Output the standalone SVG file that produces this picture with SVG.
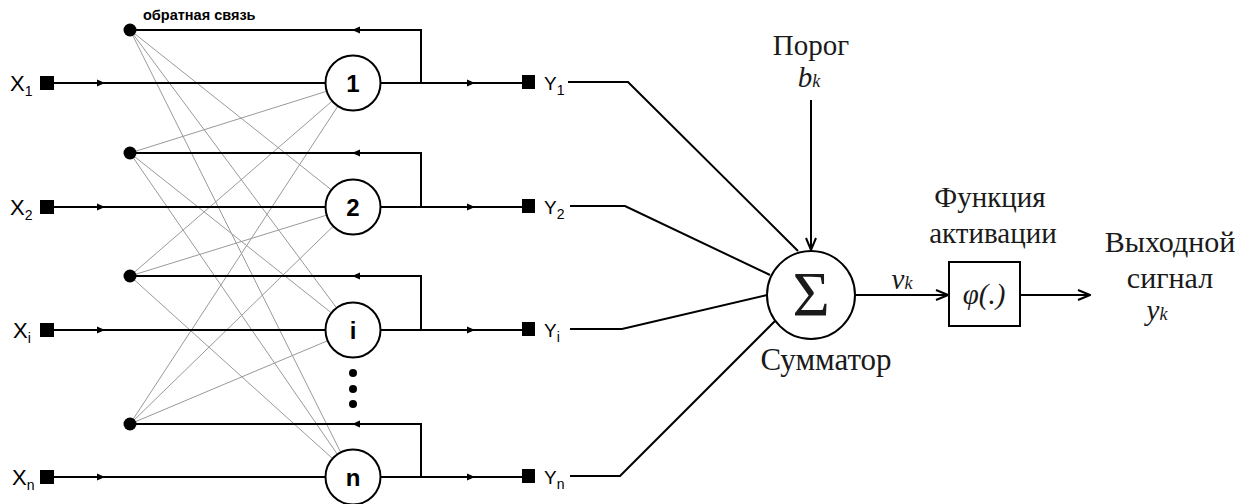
<svg xmlns="http://www.w3.org/2000/svg" width="1248" height="504" viewBox="0 0 1248 504">
<defs>
<style>
.ln{stroke:#000;stroke-width:2;fill:none}
.th{stroke:#999;stroke-width:1;fill:none}
.nd{fill:#fff;stroke:#000;stroke-width:2}
.dot{fill:#000}
.lbl{font-family:'Liberation Sans',Arial,sans-serif;fill:#000}
.nl{font-family:'Liberation Sans',Arial,sans-serif;font-size:24px;font-weight:bold;text-anchor:middle;fill:#000}
.sf{font-family:'Liberation Serif','Times New Roman','DejaVu Serif',serif;fill:#1a1a1a;text-anchor:middle}
.it{font-style:italic}
</style>
<path id="tr" d="M-7,-3.5 L1,0 L-7,3.5 Z"/>
<path id="tl" d="M7,-3.5 L-1,0 L7,3.5 Z"/>
<marker id="v" viewBox="0 0 14 12" refX="13" refY="6" markerWidth="14" markerHeight="12" markerUnits="userSpaceOnUse" orient="auto"><path d="M1,1 L13,6 L1,11" fill="none" stroke="#000" stroke-width="2"/></marker>
</defs>
<rect width="1248" height="504" fill="#fff"/>

<g id="connectors">
  <g id="cross-links">
    <path class="th" d="M130,30 L353,207 M130,30 L353,330 M130,30 L353,477"/>
    <path class="th" d="M130,153 L353,83 M130,153 L353,330 M130,153 L353,477"/>
    <path class="th" d="M130,276 L353,83 M130,276 L353,207 M130,276 L353,477"/>
    <path class="th" d="M130,424 L353,83 M130,424 L353,207 M130,424 L353,330"/>
  </g>
  <g id="inputs">
    <path class="ln" d="M54,83 H326 M54,207 H326 M54,330 H326 M54,477 H326"/>
    <use href="#tr" x="104" y="83"/><use href="#tr" x="104" y="207"/><use href="#tr" x="104" y="330"/><use href="#tr" x="104" y="477"/>
  </g>
  <g id="outputs">
    <path class="ln" d="M380,83 H522 M380,207 H522 M380,330 H522 M380,477 H522"/>
    <use href="#tr" x="474" y="83"/><use href="#tr" x="474" y="207"/><use href="#tr" x="474" y="330"/><use href="#tr" x="474" y="477"/>
  </g>
  <g id="feedback">
    <path class="ln" d="M421,83 V30 H130 M421,207 V153 H130 M421,330 V276 H130 M421,477 V424 H130"/>
    <use href="#tl" x="353" y="30"/><use href="#tl" x="353" y="153"/><use href="#tl" x="353" y="276"/><use href="#tl" x="353" y="424"/>
  </g>
  <g id="to-sum">
    <path class="ln" d="M568,82 H628 L798,251"/>
    <path class="ln" d="M570,206 H625 L770,275"/>
    <path class="ln" d="M570,329 H622 L767,295"/>
    <path class="ln" d="M570,476 H620 L775,321"/>
  </g>
  <path id="bias-arrow" class="ln" d="M811,100 V250" marker-end="url(#v)"/>
  <path id="sum-to-phi" class="ln" d="M855,295 H948" marker-end="url(#v)"/>
  <path id="phi-out" class="ln" d="M1020,295 H1090" marker-end="url(#v)"/>
</g>

<g id="x1"><rect x="40" y="76" width="14" height="14" class="dot"/><text class="lbl" x="10" y="91" style="font-size:22px">X<tspan style="font-size:14px" dy="5">1</tspan></text></g>
<g id="x2"><rect x="40" y="200" width="14" height="14" class="dot"/><text class="lbl" x="10" y="215" style="font-size:22px">X<tspan style="font-size:14px" dy="5">2</tspan></text></g>
<g id="xi"><rect x="40" y="323" width="14" height="14" class="dot"/><text class="lbl" x="13" y="338" style="font-size:22px">X<tspan style="font-size:14px" dy="5">i</tspan></text></g>
<g id="xn"><rect x="40" y="470" width="14" height="14" class="dot"/><text class="lbl" x="12" y="485" style="font-size:22px">X<tspan style="font-size:14px" dy="5">n</tspan></text></g>

<g id="fb1"><circle cx="130" cy="30" r="6.5" class="dot"/><text class="lbl" x="143" y="20" style="font-size:14.5px;font-weight:bold">обратная связь</text></g>
<g id="fb2"><circle cx="130" cy="153" r="6.5" class="dot"/></g>
<g id="fb3"><circle cx="130" cy="276" r="6.5" class="dot"/></g>
<g id="fb4"><circle cx="130" cy="424" r="6.5" class="dot"/></g>

<g id="n1"><circle cx="353" cy="83" r="27.5" class="nd"/><text class="nl" x="353" y="92">1</text></g>
<g id="n2"><circle cx="353" cy="207" r="27.5" class="nd"/><text class="nl" x="353" y="216">2</text></g>
<g id="ni"><circle cx="353" cy="330" r="27.5" class="nd"/><text class="nl" x="353" y="339">i</text></g>
<g id="nn"><circle cx="353" cy="477" r="27.5" class="nd"/><text class="nl" x="353" y="486">n</text></g>
<g id="ellipsis"><circle cx="353" cy="373" r="4" class="dot"/><circle cx="353" cy="389" r="4" class="dot"/><circle cx="353" cy="404" r="4" class="dot"/></g>

<g id="y1"><rect x="522" y="75" width="13" height="14" class="dot"/><text class="lbl" x="544" y="90" style="font-size:19px">Y<tspan style="font-size:14px" dy="5">1</tspan></text></g>
<g id="y2"><rect x="522" y="199" width="13" height="14" class="dot"/><text class="lbl" x="544" y="214" style="font-size:19px">Y<tspan style="font-size:14px" dy="5">2</tspan></text></g>
<g id="yi"><rect x="522" y="322" width="13" height="14" class="dot"/><text class="lbl" x="544" y="337" style="font-size:19px">Y<tspan style="font-size:14px" dy="5">i</tspan></text></g>
<g id="yn"><rect x="522" y="469" width="13" height="14" class="dot"/><text class="lbl" x="544" y="484" style="font-size:19px">Y<tspan style="font-size:14px" dy="5">n</tspan></text></g>

<g id="sum"><circle cx="811" cy="295" r="44" class="nd"/><text class="sf" x="811" y="316" style="font-size:64px">Σ</text><text class="sf" x="826" y="370" style="font-size:31px">Сумматор</text></g>
<g id="bias"><text class="sf" x="811" y="55" style="font-size:29px">Порог</text><text class="sf it" x="809" y="87" style="font-size:29px">b<tspan style="font-size:18px">k</tspan></text></g>
<g id="vk"><text class="sf it" x="902" y="289" style="font-size:29px">v<tspan style="font-size:18px">k</tspan></text></g>
<g id="phi"><rect x="949" y="262" width="71" height="64" fill="#fff" stroke="#000" stroke-width="2"/><text class="sf it" x="984" y="304" style="font-size:29px">φ(.)</text><text class="sf" x="990" y="207" style="font-size:29px">Функция</text><text class="sf" x="993" y="243" style="font-size:29px">активации</text></g>
<g id="out"><text class="sf" x="1170" y="252" style="font-size:30px">Выходной</text><text class="sf" x="1170" y="288" style="font-size:30px">сигнал</text><text class="sf it" x="1157" y="320" style="font-size:29px">y<tspan style="font-size:18px">k</tspan></text></g>
</svg>
